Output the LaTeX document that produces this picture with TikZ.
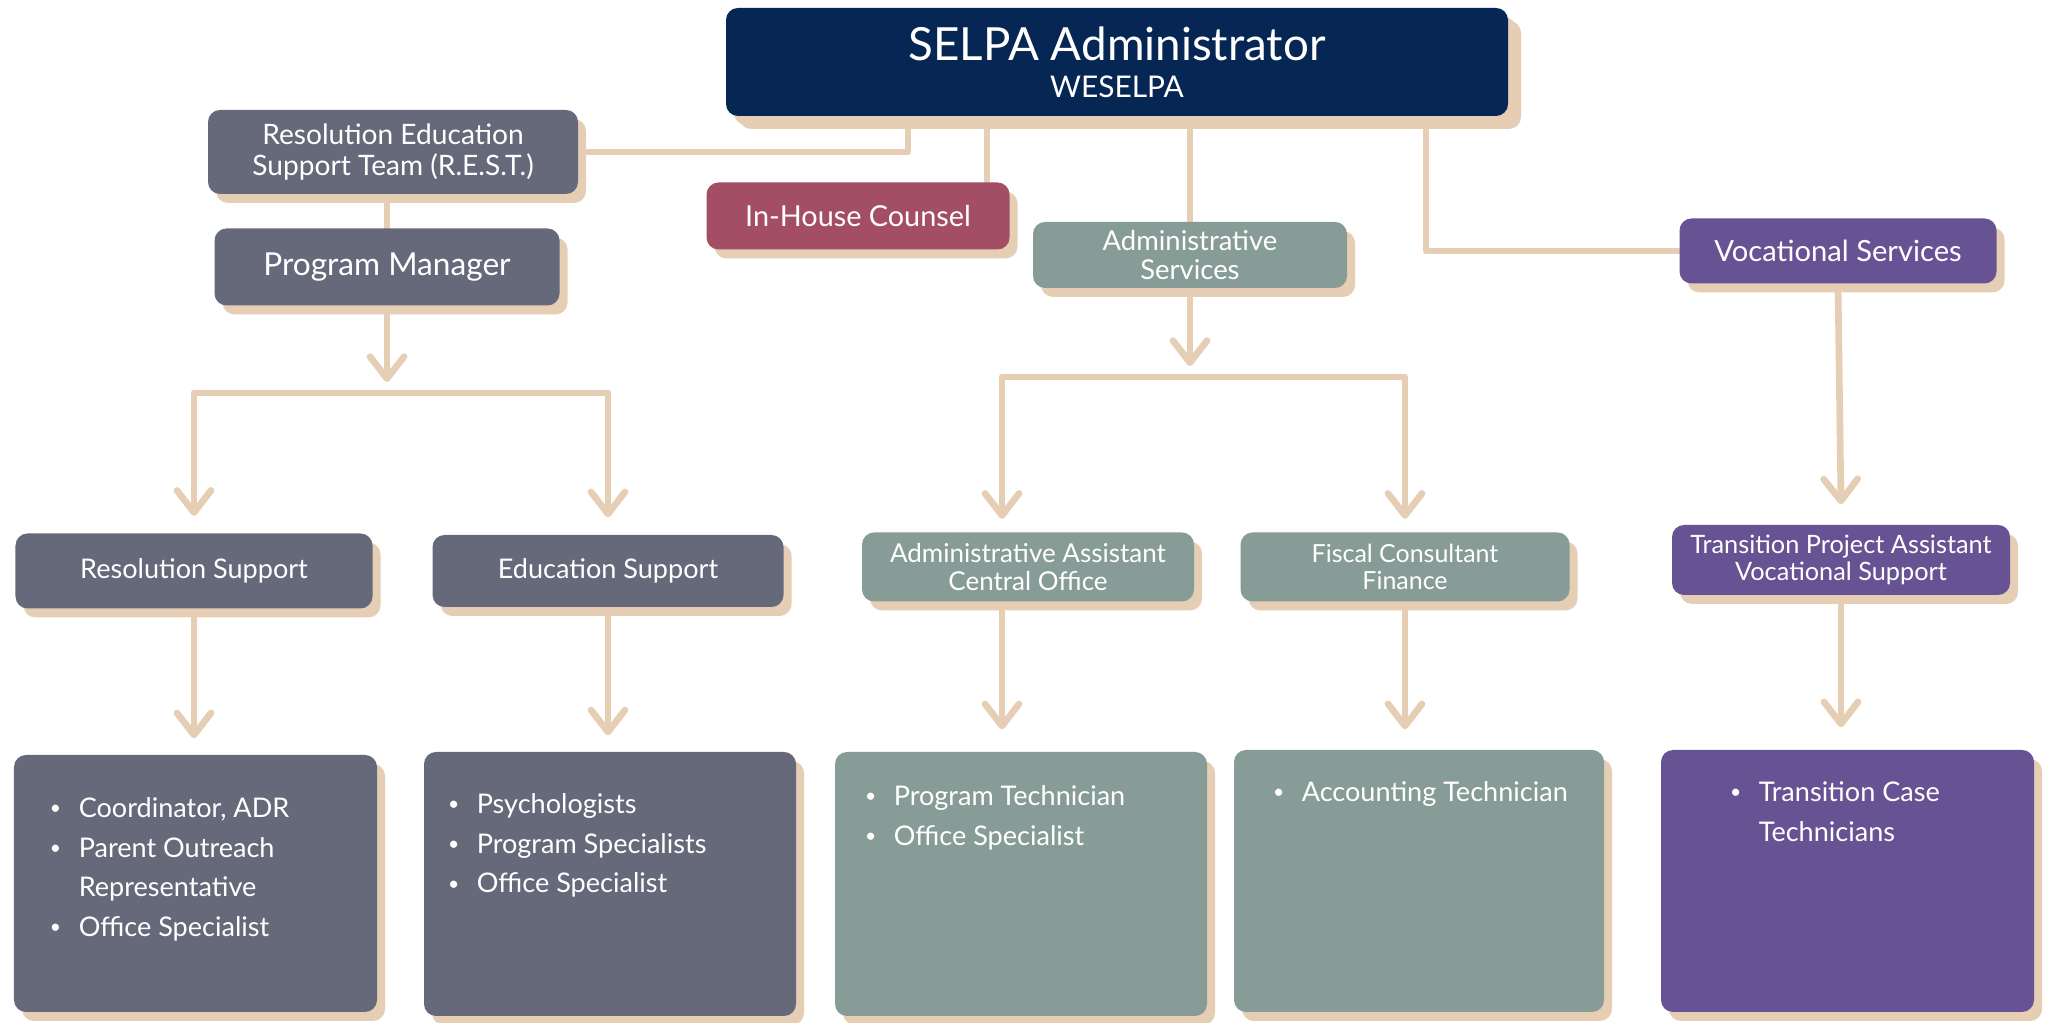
\documentclass[tikz,border=0pt]{standalone}
\usepackage{fontspec}
\setmainfont{Lato}
\usetikzlibrary{arrows.meta,shadows,backgrounds}

\definecolor{selpablue}{RGB}{6,38,84}
\definecolor{slate}{RGB}{102,105,122}
\definecolor{rose}{RGB}{163,78,100}
\definecolor{sage}{RGB}{135,156,151}
\definecolor{violet}{RGB}{103,82,147}
\definecolor{sand}{RGB}{229,206,180}

\newcommand{\dotmark}{\raisebox{.7pt}{\fontsize{5.5}{6}\selectfont\textbullet}}

\begin{document}
\begin{tikzpicture}[
		x=1cm, y=-1cm,
		>={Straight Barb[length=2.2mm, width=3.4mm, round]},
		box/.style={rectangle, rounded corners=1.2mm, text=white, align=center, inner sep=0pt,
			drop shadow={shadow xshift=0.8mm, shadow yshift=-0.9mm, fill=sand, opacity=1}},
		head/.style={box, font=\fontsize{8}{8.6}\selectfont},
		listtext/.style={text=white, inner sep=0pt, anchor=base west, font=\fontsize{7.7}{11.3}\selectfont},
		link/.style={draw=sand, line width=1.9pt, line cap=round, line join=round}
	]
  \node (selpa) [box, fill=selpablue, minimum width=7.82cm, minimum height=1.08cm,
    drop shadow={shadow xshift=1.3mm, shadow yshift=-1.3mm, fill=sand, opacity=1}] at (11.17, 0.62)
    {{\fontsize{13}{14}\selectfont SELPA Administrator}\\[-1.5pt]{\fontsize{8.5}{10}\selectfont WESELPA}};
  \node (rest) [head, fill=slate, minimum width=3.70cm, minimum height=0.84cm] at (3.93, 1.52) {Resolution Education\\Support Team (R.E.S.T.)};
  \node (pm) [head, fill=slate, minimum width=3.45cm, minimum height=0.77cm, font=\fontsize{9}{10}\selectfont] at (3.87, 2.67) {Program Manager};
  \node (counsel) [head, fill=rose, minimum width=3.03cm, minimum height=0.67cm, font=\fontsize{8.2}{9}\selectfont] at (8.58, 2.16) {In-House Counsel};
  \node (admin) [head, fill=sage, minimum width=3.14cm, minimum height=0.66cm, font=\fontsize{7.8}{8.4}\selectfont] at (11.90, 2.55) {Administrative\\Services};
  \node (voc) [head, fill=violet, minimum width=3.17cm, minimum height=0.65cm, font=\fontsize{8.3}{9}\selectfont] at (18.38, 2.51) {Vocational Services};
  \node (ressup) [head, fill=slate, minimum width=3.57cm, minimum height=0.75cm, font=\fontsize{7.7}{8.4}\selectfont] at (1.94, 5.71) {Resolution Support};
  \node (edusup) [head, fill=slate, minimum width=3.51cm, minimum height=0.72cm, font=\fontsize{7.7}{8.4}\selectfont] at (6.08, 5.71) {Education Support};
  \node (adasst) [head, fill=sage, minimum width=3.32cm, minimum height=0.69cm, font=\fontsize{7.4}{7.8}\selectfont] at (10.28, 5.67) {Administrative Assistant\\Central Office};
  \node (fiscal) [head, fill=sage, minimum width=3.29cm, minimum height=0.69cm, font=\fontsize{7.1}{7.8}\selectfont] at (14.05, 5.67) {Fiscal Consultant\\Finance};
  \node (tpa) [head, fill=violet, minimum width=3.38cm, minimum height=0.70cm, font=\fontsize{7.2}{7.6}\selectfont] at (18.41, 5.60) {Transition Project Assistant\\Vocational Support};
  \node (reslist) [box, fill=slate, minimum width=3.63cm, minimum height=2.57cm] at (1.955, 8.835) {};
  \node (edulist) [box, fill=slate, minimum width=3.72cm, minimum height=2.64cm] at (6.10, 8.84) {};
  \node (adlist) [box, fill=sage, minimum width=3.72cm, minimum height=2.64cm] at (10.21, 8.84) {};
  \node (fislist) [box, fill=sage, minimum width=3.70cm, minimum height=2.62cm] at (14.19, 8.81) {};
  \node (trlist) [box, fill=violet, minimum width=3.73cm, minimum height=2.62cm] at (18.475, 8.81) {};
  \node (reslist-t) [listtext] at ([shift={(0.36cm,-0.63cm)}]reslist.north west)
    {\begin{tabular}[t]{@{}l@{\hspace{5pt}}l@{}}\dotmark & Coordinator, ADR\\ \dotmark & Parent Outreach\\ & Representative\\ \dotmark & Office Specialist\end{tabular}};
  \node (edulist-t) [listtext] at ([shift={(0.24cm,-0.62cm)}]edulist.north west)
    {\begin{tabular}[t]{@{}l@{\hspace{5pt}}l@{}}\dotmark & Psychologists\\ \dotmark & Program Specialists\\ \dotmark & Office Specialist\end{tabular}};
  \node (adlist-t) [listtext] at ([shift={(0.30cm,-0.54cm)}]adlist.north west)
    {\begin{tabular}[t]{@{}l@{\hspace{5pt}}l@{}}\dotmark & Program Technician\\ \dotmark & Office Specialist\end{tabular}};
  \node (fislist-t) [listtext] at ([shift={(0.39cm,-0.52cm)}]fislist.north west)
    {\begin{tabular}[t]{@{}l@{\hspace{5pt}}l@{}}\dotmark & Accounting Technician\end{tabular}};
  \node (trlist-t) [listtext] at ([shift={(0.69cm,-0.52cm)}]trlist.north west)
    {\begin{tabular}[t]{@{}l@{\hspace{5pt}}l@{}}\dotmark & Transition Case\\ & Technicians\end{tabular}};
  \coordinate (pmsplit) at (3.87, 3.93);
  \coordinate (adsplit) at (11.90, 3.77);
  \begin{pgfonlayer}{background}
  \fill[white] (0,0) rectangle (20.52,10.23);
  \draw[link] ([xshift=-2.09cm]selpa.south) |- (rest.east);
  \draw[link] ([xshift=-1.30cm]selpa.south) coordinate (c1) -- (c1 |- counsel.north);
  \draw[link] (selpa.south -| admin.north) -- (admin.north);
  \draw[link] ([xshift=3.09cm]selpa.south) |- (voc.west);
  \draw[link] (rest.south -| pm.north) -- (pm.north);
  \draw[link, ->] (pm.south) -- ([yshift=1.1mm]pmsplit);
  \draw[link, <->] ([yshift=1.7mm]ressup.north) |- (pmsplit) -| ([yshift=1.7mm]edusup.north);
  \draw[link, ->] (admin.south) -- ([yshift=1.1mm]adsplit);
  \draw[link, <->] ([xshift=-2.6mm, yshift=1.3mm]adasst.north) |- (adsplit) -| ([yshift=1.3mm]fiscal.north);
  \draw[link, ->] (voc.south) -- ([yshift=2mm]tpa.north);
  \draw[link, ->] (ressup.south) -- ([yshift=1.6mm]ressup.south |- reslist.north);
  \draw[link, ->] (edusup.south) -- ([yshift=1.6mm]edusup.south |- edulist.north);
  \draw[link, ->] ([xshift=-2.6mm]adasst.south) coordinate (c2) -- ([yshift=2.2mm]c2 |- adlist.north);
  \draw[link, ->] (fiscal.south) -- ([yshift=2mm]fiscal.south |- fislist.north);
  \draw[link, ->] (tpa.south) -- ([yshift=2.2mm]tpa.south |- trlist.north);
  \end{pgfonlayer}
\end{tikzpicture}
\end{document}
